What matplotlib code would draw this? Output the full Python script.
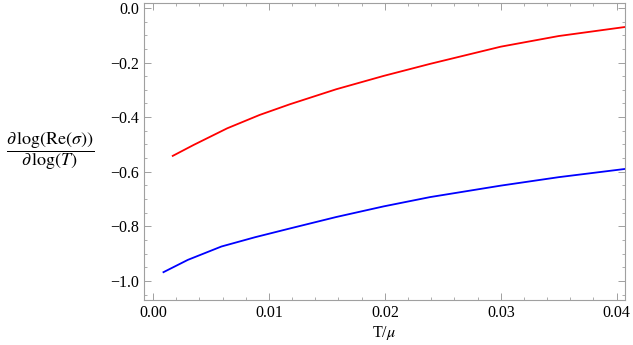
import numpy as np
import matplotlib
matplotlib.use("Agg")
import matplotlib.pyplot as plt
from matplotlib.ticker import MultipleLocator, FuncFormatter

# values
red_T = [0.0017, 0.0035, 0.0064, 0.0092, 0.0118, 0.0158, 0.0199, 0.0239, 0.030, 0.035, 0.0407]
red_val = [-0.542, -0.502, -0.441, -0.392, -0.353, -0.298, -0.249, -0.205, -0.142, -0.103, -0.070]
blue_T = [0.0009, 0.0030, 0.0059, 0.0088, 0.0118, 0.0158, 0.0199, 0.0239, 0.030, 0.035, 0.0407]
blue_val = [-0.968, -0.923, -0.874, -0.840, -0.808, -0.766, -0.727, -0.693, -0.651, -0.620, -0.590]

plt.rcParams["font.family"] = "Liberation Serif"
plt.rcParams["mathtext.fontset"] = "stix"

fig = plt.figure(figsize=(6.33, 3.45), dpi=100)
ax = fig.add_axes([0.2275, 0.1304, 0.7595, 0.8609])

ax.plot(red_T, red_val, color="#ff0000", lw=1.3)
ax.plot(blue_T, blue_val, color="#0000ff", lw=1.3)

ax.set_xlim(-0.00078, 0.0407)
ax.set_ylim(-1.07, 0.018)

ax.xaxis.set_major_locator(MultipleLocator(0.01))
ax.xaxis.set_minor_locator(MultipleLocator(0.002))
ax.yaxis.set_major_locator(MultipleLocator(0.2))
ax.yaxis.set_minor_locator(MultipleLocator(0.05))
ax.xaxis.set_major_formatter(FuncFormatter(lambda v, p: ("%.2f" % v).replace("-", "\u2212")))
ax.yaxis.set_major_formatter(FuncFormatter(lambda v, p: ("%.1f" % (v + 0.0)).replace("-", "\u2212")))

for s in ax.spines.values():
    s.set_color("#a0a0a0")
    s.set_linewidth(0.8)
ax.tick_params(which="both", direction="in", top=True, right=True, color="#a0a0a0",
               labelsize=11.5, labelcolor="black")
ax.tick_params(which="major", length=5, width=0.7)
ax.tick_params(which="minor", length=2.5, width=0.6)

ax.set_xlabel(r"T/$\mu$", fontsize=11.5, labelpad=2)
ax.set_ylabel(r"$\dfrac{\partial\,\log(\mathrm{Re}(\sigma))}{\partial\,\log(T)}$",
              rotation=0, fontsize=13, va="center", ha="center")
ax.yaxis.set_label_coords(-0.195, 0.50)

fig.savefig("out.png", dpi=100)
